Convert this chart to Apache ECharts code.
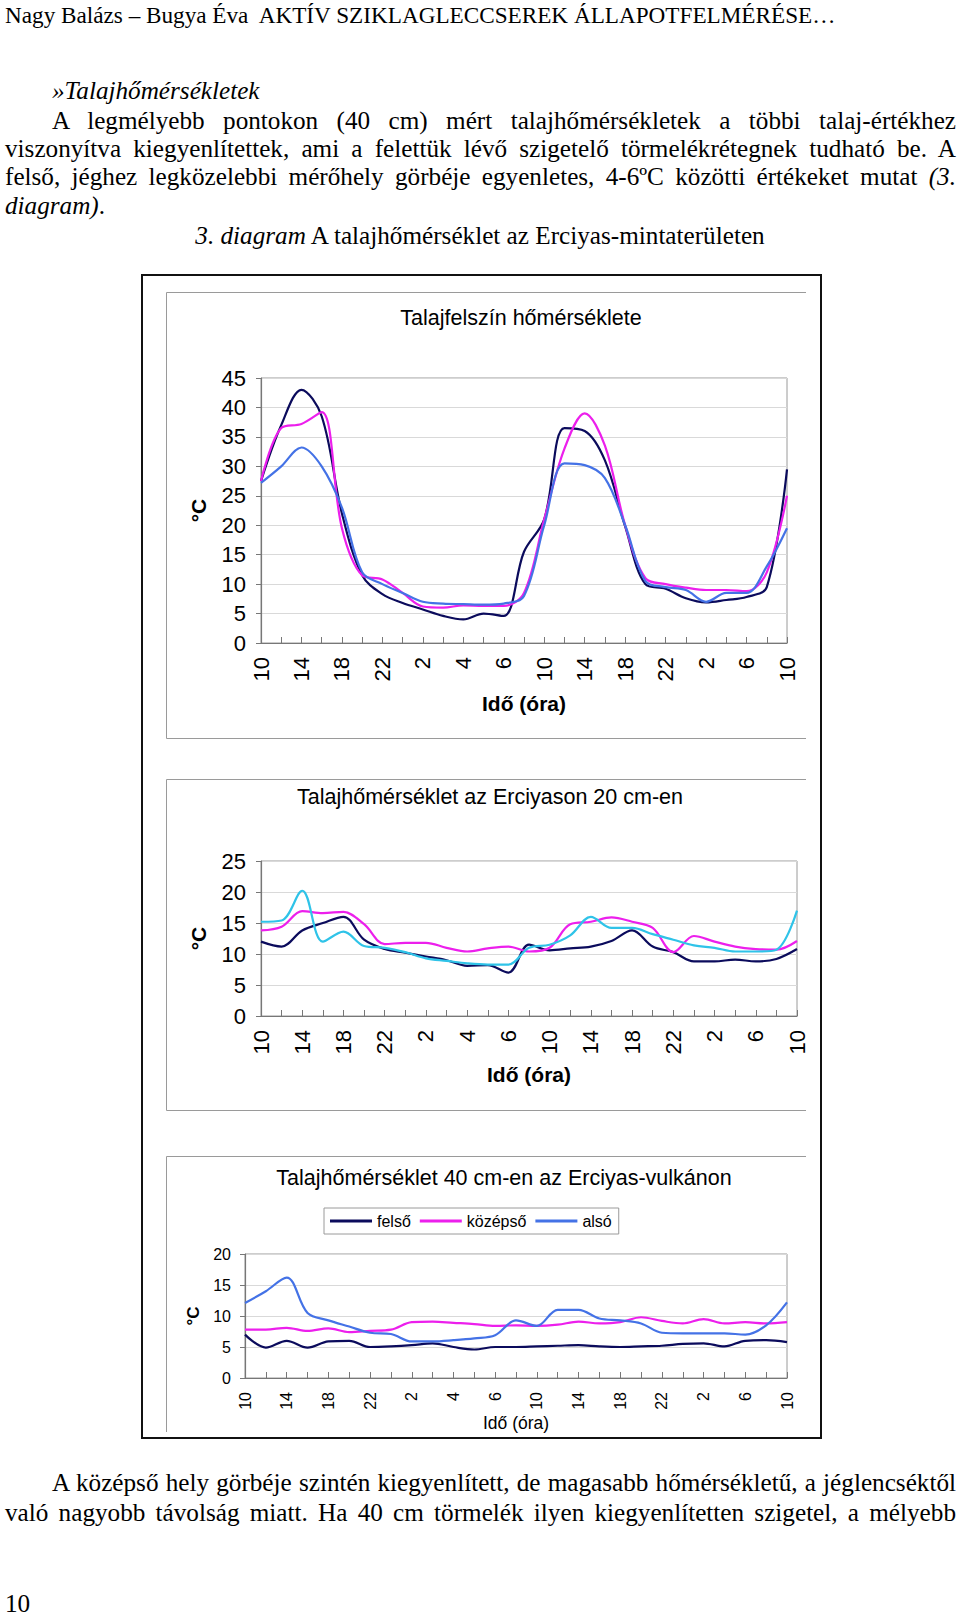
<!DOCTYPE html>
<html><head><meta charset="utf-8">
<script src="https://cdn.jsdelivr.net/npm/echarts@6/dist/echarts.min.js"></script>
<style>
html,body{margin:0;padding:0;background:#fff;}
body{width:960px;height:1617px;position:relative;overflow:hidden;font-family:"Liberation Serif","Times New Roman",serif;color:#000;}
#chart{position:absolute;left:0;top:0;width:960px;height:1617px;z-index:1;}
.t{position:absolute;white-space:nowrap;font-size:25.2px;line-height:29px;height:29px;z-index:2;}
.j{text-align:justify;text-align-last:justify;}
</style></head><body>
<div id="chart"></div>
<div class="t" style="left:5px;top:1px;font-size:23.2px">Nagy Balázs – Bugya Éva&nbsp; AKTÍV SZIKLAGLECCSEREK ÁLLAPOTFELMÉRÉSE…</div>
<div class="t" style="left:52px;top:76px;"><i>»Talajhőmérsékletek</i></div>
<div class="t j" style="left:52px;width:904px;top:106px;">A legmélyebb pontokon (40 cm) mért talajhőmérsékletek a többi talaj-értékhez</div>
<div class="t j" style="left:5px;width:951px;top:134px;">viszonyítva kiegyenlítettek, ami a felettük lévő szigetelő törmelékrétegnek tudható be. A</div>
<div class="t j" style="left:5px;width:951px;top:162px;">felső, jéghez legközelebbi mérőhely görbéje egyenletes, 4-6ºC közötti értékeket mutat <i>(3.</i></div>
<div class="t" style="left:5px;top:191px;"><i>diagram)</i>.</div>
<div class="t" style="left:0;width:960px;text-align:center;top:221px;"><i>3. diagram</i> A talajhőmérséklet az Erciyas-mintaterületen</div>
<div class="t j" style="left:52px;width:904px;top:1468px;">A középső hely görbéje szintén kiegyenlített, de magasabb hőmérsékletű, a jéglencséktől</div>
<div class="t j" style="left:5px;width:951px;top:1498px;">való nagyobb távolság miatt. Ha 40 cm törmelék ilyen kiegyenlítetten szigetel, a mélyebb</div>
<div class="t" style="left:5px;top:1589px;">10</div>
<script>
// Tick labels of the time axis (every other tick is labelled)
const hourLabels = ['10','','14','','18','','22','','2','','4','','6','','10','','14','','18','','22','','2','','6','','10'];

// Chart 1: soil surface temperature (°C)
const surfFelso   = [27.5, 37, 43, 38.5, 22, 11.5, 8.3, 6.8, 5.7, 4.6, 4, 5, 4.6, 15.5, 21, 36.5, 36, 31, 19.8, 10, 9.2, 7.6, 6.9, 7.3, 7.8, 9.5, 29.5];
const surfKozepso = [27.5, 36.5, 37.2, 39.2, 19.5, 11.5, 10.8, 8.5, 6.2, 6, 6.4, 6.3, 6.3, 8.5, 21, 33, 39, 33.5, 20, 11, 10, 9.4, 9, 9, 8.8, 12, 25];
const surfAlso    = [27.2, 30, 33.2, 30, 23, 12, 10, 8.5, 7, 6.7, 6.6, 6.5, 6.7, 8, 20, 30.5, 30.2, 28, 20, 10.5, 9.5, 9, 7, 8.5, 8.5, 13, 19.5];

// Chart 2: soil temperature at 20 cm (°C)
const d20Felso   = [12, 11.2, 13.8, 15, 16, 12.3, 10.8, 10.2, 9.6, 9, 8.1, 8.2, 7, 11.5, 10.6, 10.9, 11.2, 12.1, 13.8, 11.2, 10.3, 8.8, 8.8, 9.1, 8.8, 9.2, 10.8];
const d20Kozepso = [13.8, 14.4, 16.9, 16.6, 16.8, 14.8, 11.6, 11.8, 11.8, 11, 10.4, 10.9, 11.2, 10.4, 11, 14.8, 15.2, 15.9, 15.2, 14.2, 10.3, 12.9, 12, 11.2, 10.8, 10.7, 12.1];
const d20Also    = [15.2, 15.4, 20.2, 12, 13.6, 11.3, 11, 10.3, 9.3, 8.9, 8.5, 8.3, 8.3, 11, 11.5, 13, 16, 14.2, 14.2, 13.2, 12.3, 11.4, 11, 10.4, 10.4, 10.7, 17];

// Chart 3: soil temperature at 40 cm (°C)
const d40Felso   = [7, 4.9, 6, 4.9, 5.9, 6, 5, 5.1, 5.3, 5.6, 5, 4.6, 5, 5, 5.1, 5.2, 5.3, 5.1, 5, 5.1, 5.2, 5.5, 5.6, 5.1, 6, 6.1, 5.8];
const d40Kozepso = [7.8, 7.8, 8.1, 7.6, 8, 7.4, 7.6, 7.8, 9, 9.1, 8.9, 8.7, 8.4, 8.5, 8.4, 8.6, 9.1, 8.8, 9, 9.8, 9.2, 8.8, 9.5, 8.8, 9, 8.8, 9];
const d40Also    = [12.1, 14, 16.2, 10.5, 9.3, 8.3, 7.3, 7.1, 5.9, 5.9, 6.1, 6.4, 6.9, 9.3, 8.4, 11, 11, 9.6, 9.3, 8.8, 7.3, 7.2, 7.2, 7.2, 7, 8.5, 12.2];

const seriesNames = ['felső', 'középső', 'alsó'];
const titles = ['Talajfelszín hőmérséklete', 'Talajhőmérséklet az Erciyason 20 cm-en', 'Talajhőmérséklet 40 cm-en az Erciyas-vulkánon'];
const axisNameX = 'Idő (óra)';
const axisNameY = '°C';

const NAVY = '#0b0b5c', MAG = '#ec1fec', BLUE = '#4472e6', CYAN = '#2fc3e8';
const SANS = '"Liberation Sans", Arial, sans-serif';
const AX = '#777';

function xAx(i, fs, gap, bold, nfs) {
  return {
    type: 'category', gridIndex: i, data: hourLabels, boundaryGap: false,
    axisLine: {lineStyle: {color: AX, width: 1.2}},
    axisTick: {show: true, interval: 0, inside: true, length: 6, lineStyle: {color: AX}},
    axisLabel: {interval: 0, rotate: 90, fontSize: fs, color: '#000', margin: 14, fontFamily: SANS},
    splitLine: {show: false},
    name: axisNameX, nameLocation: 'middle', nameGap: gap,
    nameTextStyle: {fontSize: nfs, fontWeight: bold ? 'bold' : 'normal', color: '#000', fontFamily: SANS}
  };
}
function yAx(i, max, fs, gap, nfs, margin) {
  return {
    type: 'value', gridIndex: i, min: 0, max: max, interval: 5,
    axisLine: {show: true, lineStyle: {color: AX, width: 1.2}},
    axisTick: {show: true, length: 5, lineStyle: {color: AX}},
    axisLabel: {fontSize: fs, color: '#000', margin: margin, fontFamily: SANS},
    splitLine: {lineStyle: {color: '#d9d9d9', width: 1}},
    name: axisNameY, nameLocation: 'middle', nameRotate: 90, nameGap: gap,
    nameTextStyle: {fontSize: nfs, fontWeight: 'bold', color: '#000', fontFamily: SANS}
  };
}
function ser(name, data, color, i) {
  return {
    type: 'line', name: name, data: data, xAxisIndex: i, yAxisIndex: i,
    smooth: 0.35, showSymbol: false, symbol: 'none',
    lineStyle: {color: color, width: 2.2}, itemStyle: {color: color},
    emphasis: {disabled: true}, animation: false
  };
}
function ttl(text, x, y) {
  return {type: 'text', style: {text: text, x: x, y: y, align: 'center', verticalAlign: 'middle', font: '21.5px ' + SANS, fill: '#000'}};
}
function box(points) {
  return {type: 'polyline', shape: {points: points}, style: {stroke: '#9a9a9a', lineWidth: 1, fill: null}};
}

const chart = echarts.init(document.getElementById('chart'), null, {renderer: 'svg'});
chart.setOption({
  animation: false,
  grid: [
    {left: 261, top: 378, width: 526, height: 265, show: true, borderColor: '#9a9a9a', borderWidth: 1, backgroundColor: 'transparent'},
    {left: 261, top: 861, width: 536, height: 155, show: true, borderColor: '#9a9a9a', borderWidth: 1, backgroundColor: 'transparent'},
    {left: 245, top: 1254, width: 542, height: 124, show: true, borderColor: '#9a9a9a', borderWidth: 1, backgroundColor: 'transparent'}
  ],
  xAxis: [xAx(0, 22, 50, true, 21), xAx(1, 22, 48, true, 21), xAx(2, 16, 33, false, 17.5)],
  yAxis: [yAx(0, 45, 22, 52, 21, 15), yAx(1, 25, 22, 52, 21, 15), yAx(2, 20, 16, 40, 17, 14)],
  legend: {
    data: seriesNames, left: 324, top: 1208, orient: 'horizontal',
    padding: [5, 7, 5, 6], itemGap: 9, itemWidth: 42, itemHeight: 3, icon: 'rect',
    borderColor: '#9a9a9a', borderWidth: 1, selectedMode: false,
    textStyle: {fontSize: 16, color: '#000', fontFamily: SANS}
  },
  graphic: [
    {type: 'rect', shape: {x: 142, y: 275, width: 679, height: 1163}, style: {fill: null, stroke: '#111', lineWidth: 2}},
    box([[806, 292.5], [166.5, 292.5], [166.5, 738.5], [806, 738.5]]),
    box([[806, 779.5], [166.5, 779.5], [166.5, 1110.5], [806, 1110.5]]),
    box([[806, 1156.5], [166.5, 1156.5], [166.5, 1432]]),
    ttl(titles[0], 521, 318),
    ttl(titles[1], 490, 797),
    ttl(titles[2], 504, 1178)
  ],
  series: [
    ser(seriesNames[0], d40Felso, NAVY, 2),
    ser(seriesNames[1], d40Kozepso, MAG, 2),
    ser(seriesNames[2], d40Also, BLUE, 2),
    ser('felső (felszín)', surfFelso, NAVY, 0),
    ser('középső (felszín)', surfKozepso, MAG, 0),
    ser('alsó (felszín)', surfAlso, BLUE, 0),
    ser('felső (20 cm)', d20Felso, NAVY, 1),
    ser('középső (20 cm)', d20Kozepso, MAG, 1),
    ser('alsó (20 cm)', d20Also, CYAN, 1)
  ]
});
</script>
</body></html>
